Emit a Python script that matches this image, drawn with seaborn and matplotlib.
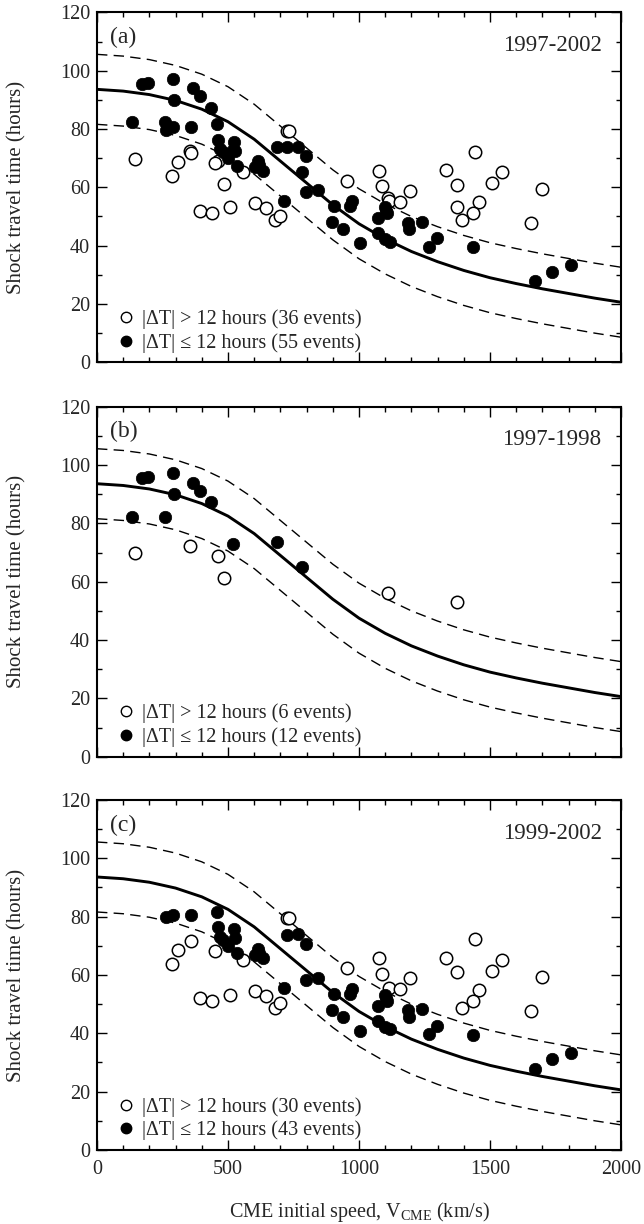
import numpy as np
import pandas as pd
import matplotlib
matplotlib.use("Agg")
import matplotlib.pyplot as plt
from matplotlib.lines import Line2D
from matplotlib.ticker import MultipleLocator
import seaborn as sns

# ---------------- data ----------------
# Model curve, CME speed (km/s) vs travel time (hours)
curve_v = [0, 100, 200, 300, 400, 500, 600, 700, 800, 900, 1000, 1100, 1200,
           1300, 1400, 1500, 1600, 1700, 1800, 1900, 2000]
curve_t = [93.6, 93.0, 91.8, 89.8, 86.8, 82.5, 76.5, 69.0, 61.5, 54.0, 47.5,
           42.3, 38.0, 34.5, 31.5, 29.0, 27.0, 25.2, 23.6, 22.0, 20.6]
band_half_width = 12.0

# 1997-1998 events
b_open_v = [145, 355, 461, 486, 1110, 1373]
b_open_t = [69.7, 72.3, 68.9, 61.2, 56.2, 53.1]
b_fill_v = [171, 196, 289, 294, 365, 393, 434, 132, 260, 520, 688, 781]
b_fill_t = [95.4, 95.9, 97.2, 90.0, 94.0, 91.2, 87.2, 82.3, 82.3, 72.9, 73.7, 65.1]

# 1999-2002 events
c_open_v = [287, 310, 358, 450, 558, 724, 734, 955, 393, 440, 506, 603, 644,
            678, 700, 1076, 1089, 1116, 1157, 1195, 1332, 1375, 1443, 1506,
            1547, 1697, 1458, 1436, 1392, 1658]
c_open_t = [63.8, 68.6, 71.7, 68.3, 65.1, 79.4, 79.4, 62.3, 52.0, 51.2, 53.1,
            54.5, 52.9, 48.8, 50.3, 65.7, 60.3, 55.4, 55.1, 58.9, 65.9, 60.9,
            72.2, 61.5, 65.1, 59.4, 54.9, 51.2, 48.7, 47.8]
c_fill_v = [263, 289, 358, 459, 463, 524, 469, 527, 501, 536, 613, 603, 635,
            724, 768, 797, 799, 845, 715, 903, 966, 972, 898, 940, 1004, 1074,
            1099, 1106, 1074, 1099, 1118, 1188, 1192, 1239, 1268, 1299, 1434,
            1672, 1738, 1808, 480, 620, 1102]
c_fill_t = [79.8, 80.6, 80.6, 81.7, 76.3, 75.6, 73.1, 72.6, 70.1, 67.4, 68.9,
            66.9, 65.7, 73.7, 74.0, 70.6, 58.3, 59.1, 55.4, 53.5, 53.6, 55.3,
            48.0, 45.6, 40.8, 49.4, 53.3, 51.1, 44.2, 42.2, 41.4, 47.9, 45.6,
            48.2, 39.6, 42.5, 39.4, 27.9, 31.1, 33.4, 72.0, 67.5, 52.0]

panels = [
    ("(a)", "1997-2002", b_open_v + c_open_v, b_open_t + c_open_t,
     b_fill_v + c_fill_v, b_fill_t + c_fill_t),
    ("(b)", "1997-1998", b_open_v, b_open_t, b_fill_v, b_fill_t),
    ("(c)", "1999-2002", c_open_v, c_open_t, c_fill_v, c_fill_t),
]

# ---------------- style ----------------
sns.set_style("ticks")
plt.rcParams["font.family"] = ["Liberation Serif", "DejaVu Serif"]
plt.rcParams["mathtext.fontset"] = "custom"
plt.rcParams["mathtext.rm"] = "Liberation Serif"
plt.rcParams["mathtext.it"] = "Liberation Serif:italic"
plt.rcParams["font.size"] = 14.5

fig = plt.figure(figsize=(6.44, 12.24), dpi=100)
left, width, height = 0.1506, 0.8137, 0.2859
bottoms = [0.7040, 0.3818, 0.0605]

curve = pd.DataFrame({"v": curve_v, "t": curve_t})
curve["up"] = curve["t"] + band_half_width
curve["lo"] = curve["t"] - band_half_width

for i, (tag, years, ov, ot, fv, ft) in enumerate(panels):
    ax = fig.add_axes([left, bottoms[i], width, height])
    sns.lineplot(data=curve, x="v", y="t", color="black", lw=2.1, ax=ax)
    for col in ("up", "lo"):
        sns.lineplot(data=curve, x="v", y=col, color="black", lw=1.0,
                     dashes=False, ax=ax, linestyle=(0, (7.5, 4.5)))
    sns.scatterplot(x=ov, y=ot, marker="o", s=80, facecolor="white",
                    edgecolor="black", linewidth=1.1, ax=ax, zorder=3)
    sns.scatterplot(x=fv, y=ft, marker="o", s=80, color="black",
                    edgecolor="black", linewidth=0.5, ax=ax, zorder=4)

    ax.set_xlim(0, 2000)
    ax.set_ylim(0, 120)
    ax.xaxis.set_major_locator(MultipleLocator(500))
    ax.xaxis.set_minor_locator(MultipleLocator(100))
    ax.yaxis.set_major_locator(MultipleLocator(20))
    ax.yaxis.set_minor_locator(MultipleLocator(10))
    ax.tick_params(which="both", direction="in", top=True, right=True,
                   width=1.0, labelsize=14.5, color="black")
    ax.tick_params(which="major", length=7)
    ax.tick_params(which="minor", length=3.6)
    ax.tick_params(axis="y", pad=5)
    ax.tick_params(axis="x", pad=7)
    for sp in ax.spines.values():
        sp.set_linewidth(1.5)
        sp.set_color("black")
    if i < 2:
        ax.set_xticklabels([])
        ax.set_xlabel("")
    else:
        ax.set_xlabel(r"CME initial speed, V$_{\rm CME}$ (km/s)", fontsize=14.5,
                      labelpad=15)
    ax.set_ylabel("Shock travel time (hours)", fontsize=15)
    ax.yaxis.set_label_coords(-0.135, 0.5)

    ax.text(0.025, 0.928, tag, transform=ax.transAxes, fontsize=17,
            ha="left", va="center")
    ax.text(0.963, 0.905, years, transform=ax.transAxes, fontsize=16.5,
            ha="right", va="center")

    handles = [
        Line2D([], [], marker="o", ls="none", ms=7.5, mfc="white",
               mec="black", mew=1.0),
        Line2D([], [], marker="o", ls="none", ms=7.5, mfc="black",
               mec="black"),
    ]
    labels = [f"|ΔT| > 12 hours ({len(ov)} events)",
              f"|ΔT| ≤ 12 hours ({len(fv)} events)"]
    ax.legend(handles, labels, loc="lower left", frameon=False, fontsize=14.5,
              handletextpad=0.3, handlelength=1.0, borderaxespad=0.0,
              bbox_to_anchor=(0.025, 0.01), labelspacing=0.2, borderpad=0.3)

fig.savefig("out.png", dpi=100)
